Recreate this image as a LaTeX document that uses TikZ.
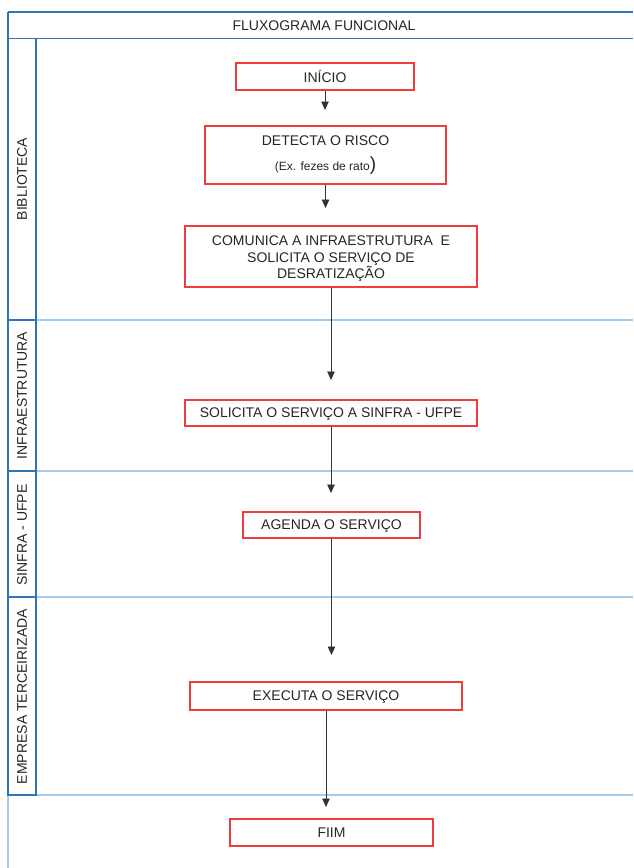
\documentclass[tikz,border=0pt]{standalone}
\usepackage{fontspec}
\setmainfont{Liberation Sans}
\usetikzlibrary{arrows.meta}
\definecolor{darkblue}{HTML}{2E75B6}
\definecolor{lightblue}{HTML}{A9CBEA}
\definecolor{boxred}{HTML}{F03C3C}
\begin{document}
\begin{tikzpicture}[x=1pt,y=-1pt,
  stepbox/.style={draw=boxred,line width=1.4pt,fill=white,inner sep=0pt,
    align=center,font=\fontsize{14}{16.5}\selectfont,text=black!85},
  lanelabel/.style={rotate=90,font=\fontsize{14}{16}\selectfont,text=black!85},
  arr/.style={draw=black!80,line width=0.8pt,-{Triangle[width=7.5pt,length=8.5pt]}},
  dline/.style={draw=darkblue,line width=1.3pt},
  lline/.style={draw=lightblue,line width=1.3pt}]
\useasboundingbox (0,0) rectangle (633,868);
% frame
\draw[dline] (8,12) -- (633,12);
\draw[dline] (8,38.5) -- (633,38.5);
\draw[dline] (8,12) -- (8,38.5);
\draw[lline] (36,320) -- (633,320);
\draw[lline] (36,471) -- (633,471);
\draw[lline] (36,597) -- (633,597);
\draw[lline] (8,795) -- (633,795);
\draw[lline] (8,795) -- (8,868);
\draw[dline] (8,38.5) rectangle (36,795);
\draw[dline] (8,320) -- (36,320);
\draw[dline] (8,471) -- (36,471);
\draw[dline] (8,597) -- (36,597);
% title and lanes
\node[font=\fontsize{14}{16}\selectfont,text=black!85] (title) at (324,25.5) {FLUXOGRAMA FUNCIONAL};
\node[lanelabel] (l1) at (22,179) {BIBLIOTECA};
\node[lanelabel] (l2) at (22,395.5) {INFRAESTRUTURA};
\node[lanelabel] (l3) at (22,535) {SINFRA - UFPE};
\node[lanelabel] (l4) at (22,696.5) {EMPRESA TERCEIRIZADA};
% boxes
\node[stepbox,minimum width=178pt,minimum height=27pt] (inicio) at (325,76.5) {INÍCIO};
\node[stepbox,minimum width=241pt,minimum height=58pt] (detecta) at (325.5,155)
  {DETECTA O RISCO\\[9pt]{\fontsize{12}{14}\selectfont (Ex. fezes de rato}{\fontsize{19}{19}\selectfont )}};
\node[stepbox,minimum width=292pt,minimum height=61pt] (comunica) at (331,256.5)
  {\rule{0pt}{14pt}COMUNICA A INFRAESTRUTURA\ \ E\\SOLICITA O SERVIÇO DE\\DESRATIZAÇÃO};
\node[stepbox,minimum width=292pt,minimum height=26pt] (solicita) at (331,413) {\rule{0pt}{12pt}SOLICITA O SERVIÇO A SINFRA - UFPE};
\node[stepbox,minimum width=177pt,minimum height=26pt] (agenda) at (331.5,525) {\rule{0pt}{12pt}AGENDA O SERVIÇO};
\node[stepbox,minimum width=272pt,minimum height=28pt] (executa) at (326,696) {\rule{0pt}{12pt}EXECUTA O SERVIÇO};
\node[stepbox,minimum width=203pt,minimum height=27pt] (fim) at (331.5,832.5) {FIIM};
% arrow tips
\coordinate (t1) at (325,110);
\coordinate (t2) at (325.5,208);
\coordinate (t3) at (331,380);
\coordinate (t4) at (331,493);
\coordinate (t5) at (331.5,655);
\coordinate (t6) at (326,807);
\draw[arr] (inicio.south) -- (t1);
\draw[arr] (detecta.south) -- (t2);
\draw[arr] (comunica.south) -- (t3);
\draw[arr] (solicita.south) -- (t4);
\draw[arr] (agenda.south) -- (t5);
\draw[arr] (executa.south) -- (t6);
\end{tikzpicture}
\end{document}
